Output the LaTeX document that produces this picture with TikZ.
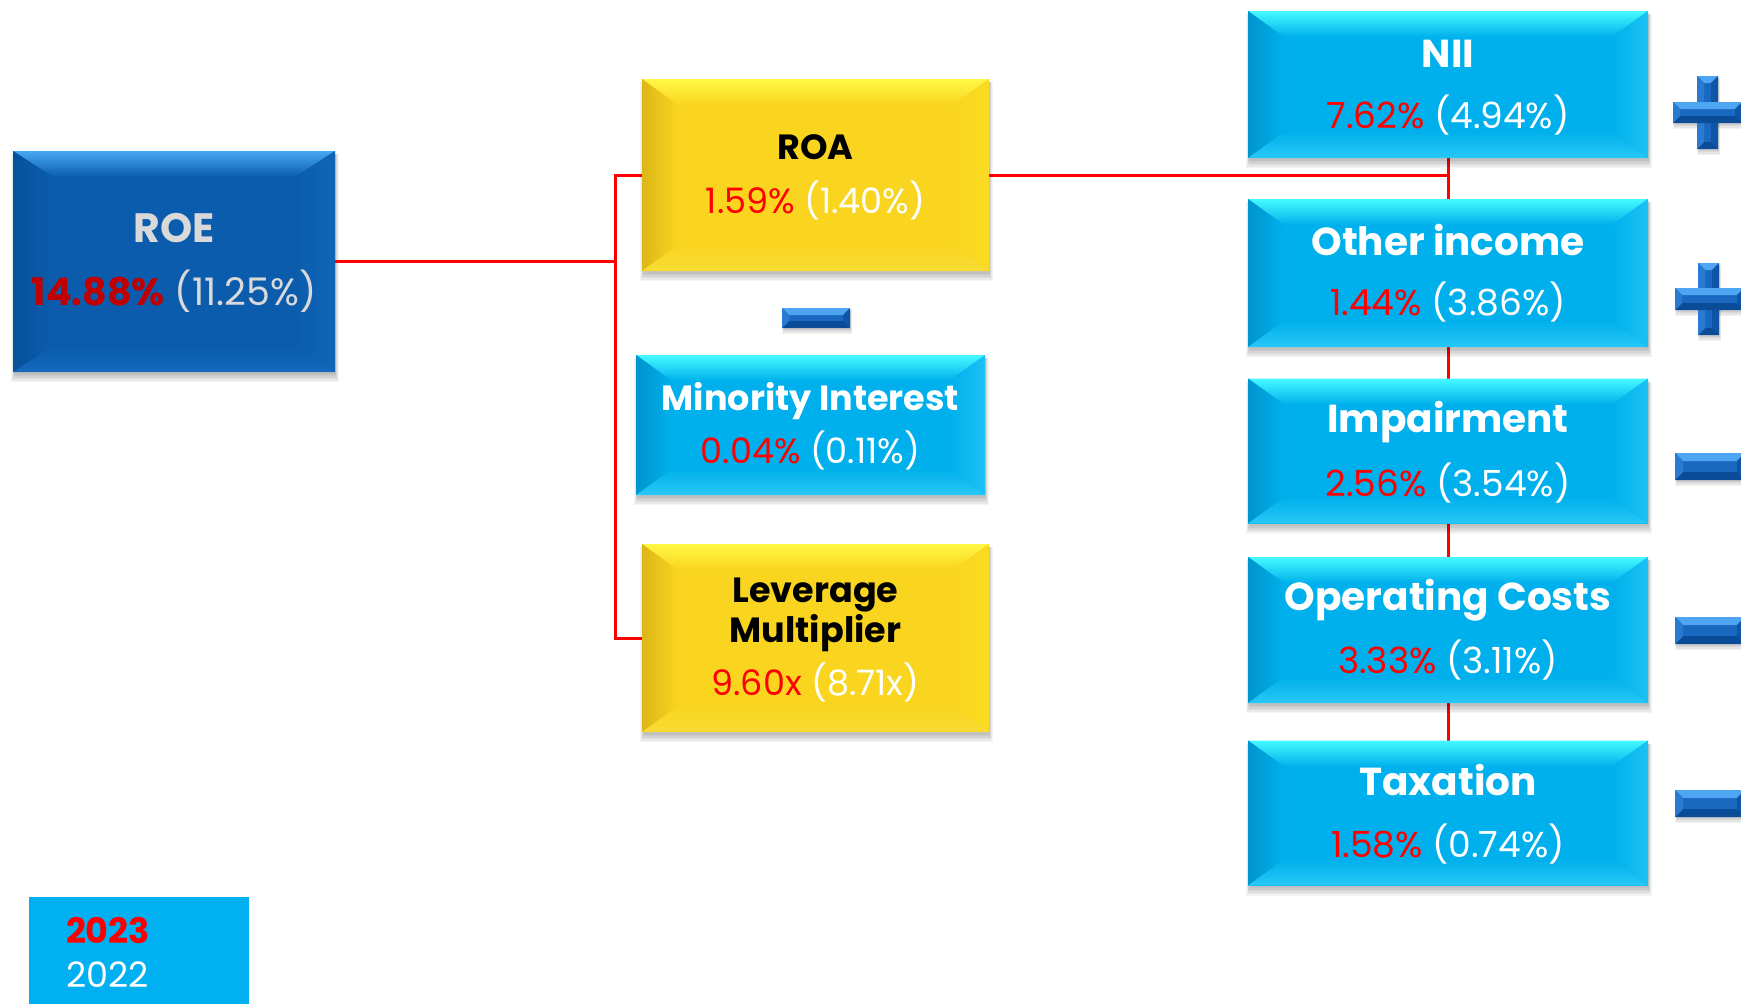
\documentclass[tikz,border=0pt]{standalone}
\usepackage{fontspec}
\setmainfont{Poppins}
\usetikzlibrary{calc}
\pgfdeclarelayer{bg}
\pgfsetlayers{bg,main}
\definecolor{cyBase}{HTML}{00B0EC}
\definecolor{cyTop}{HTML}{45FAFF}
\definecolor{cyLeft}{HTML}{0094CE}
\definecolor{cyRight}{HTML}{1CC2F5}
\definecolor{cyBot}{HTML}{28C8F6}
\definecolor{yeBase}{HTML}{F9D520}
\definecolor{yeTop}{HTML}{FFF845}
\definecolor{yeLeft}{HTML}{DDB618}
\definecolor{yeRight}{HTML}{FBDB22}
\definecolor{yeBot}{HTML}{F8DC35}
\definecolor{blBase}{HTML}{0B5CAD}
\definecolor{blTop}{HTML}{47A8F2}
\definecolor{blLeft}{HTML}{07519C}
\definecolor{blRight}{HTML}{1166B8}
\definecolor{blBot}{HTML}{1568BC}
\definecolor{sgBase}{HTML}{1A68BF}
\definecolor{sgTop}{HTML}{4EA6F2}
\definecolor{sgBot}{HTML}{0A4C98}
\definecolor{sgLeft}{HTML}{2A7AD2}
\definecolor{sgRight}{HTML}{0D55A6}
\definecolor{lnRed}{HTML}{FF0000}
\definecolor{valRed}{HTML}{FF0000}
\definecolor{roeRed}{HTML}{C00000}
\definecolor{roeGray}{HTML}{D9D9D9}
\definecolor{legCyan}{HTML}{00B0F0}
\newcommand\bevelfx[7]{% name, base, top, left, right, bottom, bevel x
  \path (#1.north west) coordinate (bA) (#1.north east) coordinate (bB)
        (#1.south east) coordinate (bC) (#1.south west) coordinate (bD);
  \begin{pgfonlayer}{bg}
    \foreach \k in {1,...,6}{
      \fill[black, opacity=0.045] ($(bA)+(2-0.6*\k,3)$) rectangle ($(bC)+(0.6*\k,1+1.5*\k)$);
    }
  \end{pgfonlayer}
  \path ($(bA)+(#7,26)$) coordinate (ba) ($(bB)+(-#7,26)$) coordinate (bb)
        ($(bC)+(-#7,-26)$) coordinate (bc) ($(bD)+(#7,-26)$) coordinate (bd);
  \shade[top color=#3, bottom color=#2] (bA) -- (bB) -- (bb) -- (ba) -- cycle;
  \shade[left color=#4, right color=#2] (bA) -- (ba) -- (bd) -- (bD) -- cycle;
  \shade[left color=#2, right color=#5] (bB) -- (bC) -- (bc) -- (bb) -- cycle;
  \shade[top color=#2, bottom color=#6] (bD) -- (bd) -- (bc) -- (bC) -- cycle;
}
\newcommand\bvbar[5]{%
  \fill[sgBase] (#1,#2) rectangle (#3,#4);
  \fill[sgTop] (#1,#2) -- (#3,#2) -- (#3-#5,#2+#5) -- (#1+#5,#2+#5) -- cycle;
  \fill[sgBot] (#1,#4) -- (#3,#4) -- (#3-#5,#4-#5) -- (#1+#5,#4-#5) -- cycle;
  \fill[sgLeft] (#1,#2) -- (#1+#5,#2+#5) -- (#1+#5,#4-#5) -- (#1,#4) -- cycle;
  \fill[sgRight] (#3,#2) -- (#3-#5,#2+#5) -- (#3-#5,#4-#5) -- (#3,#4) -- cycle;
}
\newcommand\signshadow[4]{%
  \foreach \k in {1,...,4}{\fill[black,opacity=0.05] (#1+2-0.5*\k,#2+2) rectangle (#3+0.5*\k,#4+1+1.2*\k);}}
\tikzset{
  box/.style={rectangle, inner sep=0pt, outer sep=0pt},
  cybox/.style={box, fill=cyBase},
  yebox/.style={box, fill=yeBase},
  blbox/.style={box, fill=blBase},
  txt/.style={inner sep=0pt, outer sep=0pt, anchor=base},
  link/.style={draw=lnRed, line width=3pt},
  bigtitle/.style={txt, font=\bfseries\fontsize{39}{44}\selectfont, text=white},
  bigval/.style={txt, font=\fontsize{36}{42}\selectfont},
  midtitle/.style={txt, font=\bfseries\fontsize{35}{40}\selectfont},
  midval/.style={txt, font=\fontsize{35}{40}\selectfont},
}
\begin{document}
\begin{tikzpicture}[x=1pt,y=-1pt]
\useasboundingbox (0,0) rectangle (1741,1004);
\begin{pgfonlayer}{bg}
\fill[white] (0,0) rectangle (1741,1004);
\end{pgfonlayer}

% boxes
\node[blbox, minimum width=322, minimum height=221] (roe) at (174,261.5) {};
\node[yebox, minimum width=347, minimum height=192] (roa) at (815.5,175) {};
\node[cybox, minimum width=349, minimum height=140] (mi) at (810.5,425) {};
\node[yebox, minimum width=347, minimum height=188] (lev) at (815.5,638) {};
\node[cybox, minimum width=400, minimum height=147] (nii) at (1448,84.5) {};
\node[cybox, minimum width=400, minimum height=148] (oi) at (1448,273) {};
\node[cybox, minimum width=400, minimum height=145] (imp) at (1448,451) {};
\node[cybox, minimum width=400, minimum height=146] (opc) at (1448,630) {};
\node[cybox, minimum width=400, minimum height=145] (tax) at (1448,813) {};

% connectors (behind boxes)
\coordinate (jL) at (615,261.5);
\begin{pgfonlayer}{bg}
\draw[link] (nii.south) -- (tax.north);
\end{pgfonlayer}

\bevelfx{roe}{blBase}{blTop}{blLeft}{blRight}{blBot}{40}
\bevelfx{roa}{yeBase}{yeTop}{yeLeft}{yeRight}{yeBot}{36}
\bevelfx{mi}{cyBase}{cyTop}{cyLeft}{cyRight}{cyBot}{36}
\bevelfx{lev}{yeBase}{yeTop}{yeLeft}{yeRight}{yeBot}{36}
\bevelfx{nii}{cyBase}{cyTop}{cyLeft}{cyRight}{cyBot}{36}
\bevelfx{oi}{cyBase}{cyTop}{cyLeft}{cyRight}{cyBot}{36}
\bevelfx{imp}{cyBase}{cyTop}{cyLeft}{cyRight}{cyBot}{36}
\bevelfx{opc}{cyBase}{cyTop}{cyLeft}{cyRight}{cyBot}{36}
\bevelfx{tax}{cyBase}{cyTop}{cyLeft}{cyRight}{cyBot}{36}

% red connectors
\draw[link] (roe.east) -- (jL);
\draw[link] (roa.west) -- (roa.west -| jL) -- (lev.west -| jL) -- (lev.west);
\draw[link] (roa.east) -- (roa.east -| nii.south);

% texts
\node[txt, font=\bfseries\fontsize{41}{46}\selectfont, text=roeGray] (roeT) at (174,242) {ROE};
\node[txt, font=\fontsize{38}{44}\selectfont, text=roeGray] (roeV) at (174,305)
  {\textcolor{roeRed}{\bfseries 14.88\%} (11.25\%)};

\node[midtitle, text=black] (roaT) at (815.5,159) {ROA};
\node[midval, text=white] (roaV) at (815.5,213) {\textcolor{valRed}{1.59\%} (1.40\%)};

\node[midtitle, text=white] (miT) at (810.5,410) {Minority Interest};
\node[midval, text=white] (miV) at (810.5,463) {\textcolor{valRed}{0.04\%} (0.11\%)};

\node[midtitle, text=black] (levT1) at (815.5,602) {Leverage};
\node[midtitle, text=black] (levT2) at (815.5,642) {Multiplier};
\node[midval, text=white] (levV) at (815.5,695) {\textcolor{valRed}{9.60x} (8.71x)};

\node[bigtitle] (niiT) at (1448,67) {NII};
\node[bigval, text=white] (niiV) at (1448,128) {\textcolor{valRed}{7.62\%} (4.94\%)};
\node[bigtitle] (oiT) at (1448,255) {Other income};
\node[bigval, text=white] (oiV) at (1448,315) {\textcolor{valRed}{1.44\%} (3.86\%)};
\node[bigtitle] (impT) at (1448,432) {Impairment};
\node[bigval, text=white] (impV) at (1448,496) {\textcolor{valRed}{2.56\%} (3.54\%)};
\node[bigtitle] (opcT) at (1448,610) {Operating Costs};
\node[bigval, text=white] (opcV) at (1448,673) {\textcolor{valRed}{3.33\%} (3.11\%)};
\node[bigtitle] (taxT) at (1448,795) {Taxation};
\node[bigval, text=white] (taxV) at (1448,857) {\textcolor{valRed}{1.58\%} (0.74\%)};

% signs
\signshadow{782}{308}{850}{328}
\bvbar{782}{308}{850}{328}{7}
% plus 1
\signshadow{1673}{102}{1742}{123}
\signshadow{1697}{76}{1718}{149}
\bvbar{1697}{76}{1718}{149}{7}
\bvbar{1673}{102}{1742}{123}{7}
% plus 2
\signshadow{1675}{288}{1744}{310}
\signshadow{1698}{263}{1719}{335}
\bvbar{1698}{263}{1719}{335}{7}
\bvbar{1675}{288}{1744}{310}{7}
% minus signs
\signshadow{1675}{453}{1745}{480}
\bvbar{1675}{453}{1745}{480}{8}
\signshadow{1675}{617}{1745}{644}
\bvbar{1675}{617}{1745}{644}{8}
\signshadow{1675}{790}{1745}{817}
\bvbar{1675}{790}{1745}{817}{8}

% legend
\fill[legCyan] (29,897) rectangle (249,1010);
\node[inner sep=0pt, outer sep=0pt, anchor=base west, text=lnRed,
  font=\bfseries\fontsize{35}{40}\selectfont] (leg23) at (66,943) {2023};
\node[inner sep=0pt, outer sep=0pt, anchor=base west, text=white,
  font=\fontsize{35}{40}\selectfont] (leg22) at (66,987) {2022};
\end{tikzpicture}
\end{document}
